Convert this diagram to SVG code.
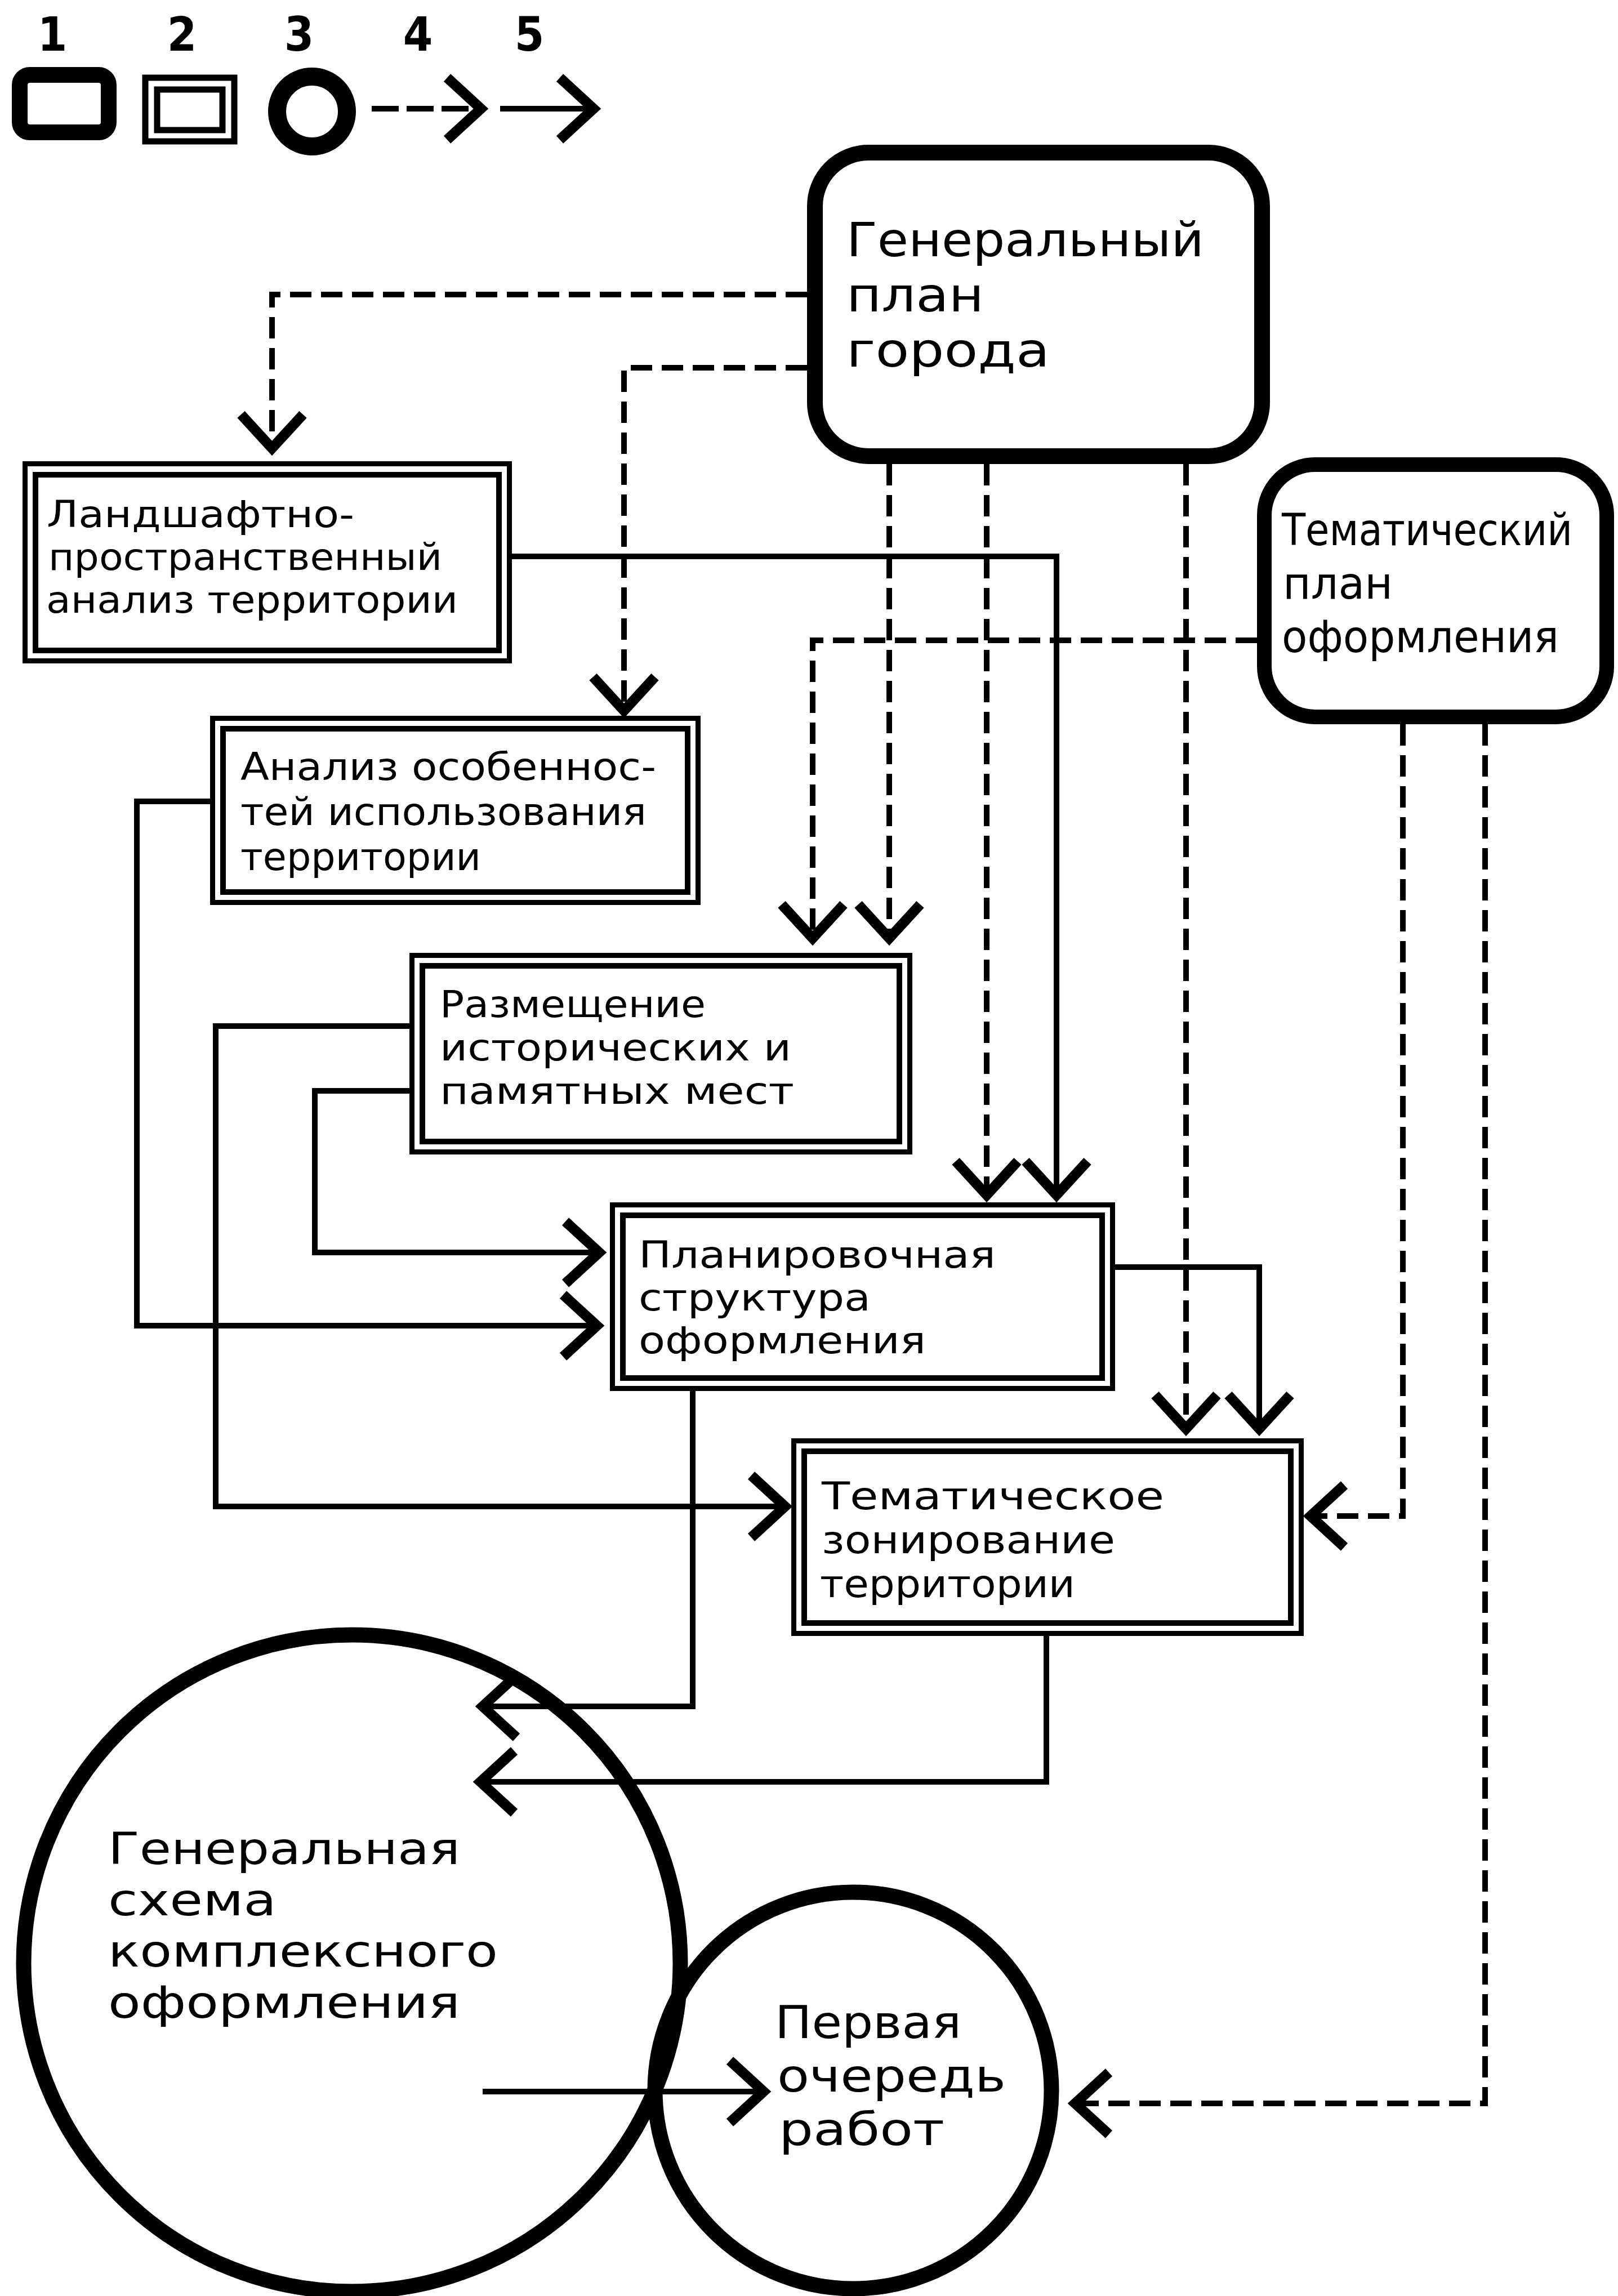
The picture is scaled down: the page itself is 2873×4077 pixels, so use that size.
<svg xmlns="http://www.w3.org/2000/svg" width="2873" height="4077" viewBox="0 0 2873 4077">
<style>
.bo{fill:none;stroke:#000;stroke-width:9}
.bi{fill:none;stroke:#000;stroke-width:10}
.rr{fill:none;stroke:#000;stroke-width:28}
.cr{fill:none;stroke:#000;stroke-width:27}
.t{font-family:"DejaVu Sans","Liberation Sans",sans-serif;fill:#000}
.tc{font-family:"DejaVu Sans Condensed","DejaVu Sans","Liberation Sans",sans-serif;fill:#000}
.n{font-family:"DejaVu Sans Condensed","DejaVu Sans",sans-serif;font-size:84px;font-weight:bold;text-anchor:middle}
.c{fill:none;stroke:#000;stroke-width:10;stroke-linejoin:miter}
.d{stroke-dasharray:38 17}
.a{marker-end:url(#arr)}
</style>
<defs>
<marker id="arr" markerUnits="userSpaceOnUse" viewBox="-12 -72 92 144" markerWidth="92" markerHeight="144" refX="60" refY="0" orient="auto">
<path d="M0,-55 L60,0 L0,55" fill="none" stroke="#000" stroke-width="18" stroke-dasharray="none"/>
</marker>
</defs>
<rect x="0" y="0" width="2873" height="4077" fill="#fff"/>

<g id="legend">
<text class="t n" x="93" y="90">1</text>
<text class="t n" x="323" y="90">2</text>
<text class="t n" x="531" y="90">3</text>
<text class="t n" x="742" y="90">4</text>
<text class="t n" x="940" y="90">5</text>
<rect x="35" y="133" width="158" height="102" rx="18" class="rr"/>
<rect x="258" y="138" width="158" height="113" class="bo" style="stroke-width:11"/>
<rect x="279" y="159" width="116" height="72" class="bi" style="stroke-width:11"/>
<circle cx="554" cy="198" r="62" fill="none" stroke="#000" stroke-width="32"/>
<path d="M660,193 H854" class="c d" style="stroke-dasharray:48 14" marker-end="url(#arr)"/>
<path d="M888,193 H1054" class="c a"/>
</g>

<g id="connectors">
<path d="M1433,523 H483 V796" class="c d a"/>
<path d="M1433,653 H1108 V1262" class="c d a"/>
<path d="M1579,824 V1666" class="c d a"/>
<path d="M1752,824 V2122" class="c d a"/>
<path d="M2106,824 V2537" class="c d a"/>
<path d="M909,988 H1876 V2122" class="c a"/>
<path d="M2232,1137 H1443 V1666" class="c d a"/>
<path d="M2491,1286 V2692 H2327" class="c d a"/>
<path d="M2637,1286 V3735 H1909" class="c d a"/>
<path d="M373,1423 H243 V2354 H1060" class="c a"/>
<path d="M727,1822 H383 V2675 H1394" class="c a"/>
<path d="M727,1937 H559 V2224 H1064" class="c a"/>
<path d="M1980,2250 H2236 V2537" class="c a"/>
<path d="M1230,2470 V3030 H857" class="c a"/>
<path d="M1858,2905 V3164 H853" class="c a"/>
<path d="M857,3714 H1356" class="c a"/>
</g>

<g id="genplan">
<rect x="1447" y="271" width="794" height="539" rx="95" class="rr"/>
<text class="t" style="font-size:84px"><tspan x="1503" y="455" textLength="635" lengthAdjust="spacingAndGlyphs">Генеральный</tspan><tspan x="1503" y="553" textLength="244" lengthAdjust="spacingAndGlyphs">план</tspan><tspan x="1503" y="651" textLength="361" lengthAdjust="spacingAndGlyphs">города</tspan></text>
</g>

<g id="tematplan">
<rect x="2245" y="825" width="608" height="448" rx="90" class="rr" style="stroke-width:26"/>
<text class="tc" style="font-size:78px"><tspan x="2276" y="968" textLength="516" lengthAdjust="spacingAndGlyphs">Тематический</tspan><tspan x="2278" y="1063" textLength="195" lengthAdjust="spacingAndGlyphs">план</tspan><tspan x="2276" y="1158" textLength="492" lengthAdjust="spacingAndGlyphs">оформления</tspan></text>
</g>

<g id="landshaft">
<rect x="44.5" y="823.5" width="860" height="350" class="bo"/>
<rect x="63" y="843" width="823" height="312" class="bi"/>
<text class="t" style="font-size:65px"><tspan x="83" y="936" textLength="546" lengthAdjust="spacingAndGlyphs">Ландшафтно-</tspan><tspan x="86" y="1012" textLength="699" lengthAdjust="spacingAndGlyphs">пространственный</tspan><tspan x="82" y="1088" textLength="731" lengthAdjust="spacingAndGlyphs">анализ территории</tspan></text>
</g>

<g id="analiz">
<rect x="377.5" y="1275.5" width="862" height="327" class="bo"/>
<rect x="396" y="1294" width="825" height="290" class="bi"/>
<text class="t" style="font-size:68px"><tspan x="427" y="1385" textLength="738" lengthAdjust="spacingAndGlyphs">Анализ особеннос-</tspan><tspan x="427" y="1465" textLength="721" lengthAdjust="spacingAndGlyphs">тей использования</tspan><tspan x="427" y="1545" textLength="427" lengthAdjust="spacingAndGlyphs">территории</tspan></text>
</g>

<g id="razmeshchenie">
<rect x="731.5" y="1696.5" width="884" height="349" class="bo"/>
<rect x="750" y="1715" width="847" height="312" class="bi"/>
<text class="t" style="font-size:66px"><tspan x="781" y="1806" textLength="472" lengthAdjust="spacingAndGlyphs">Размещение</tspan><tspan x="781" y="1883" textLength="624" lengthAdjust="spacingAndGlyphs">исторических и</tspan><tspan x="781" y="1960" textLength="629" lengthAdjust="spacingAndGlyphs">памятных мест</tspan></text>
</g>

<g id="planirovka">
<rect x="1087.5" y="2139.5" width="888" height="326" class="bo"/>
<rect x="1106" y="2158" width="851" height="289" class="bi"/>
<text class="t" style="font-size:65px"><tspan x="1134" y="2251" textLength="634" lengthAdjust="spacingAndGlyphs">Планировочная</tspan><tspan x="1134" y="2327" textLength="412" lengthAdjust="spacingAndGlyphs">структура</tspan><tspan x="1134" y="2403" textLength="510" lengthAdjust="spacingAndGlyphs">оформления</tspan></text>
</g>

<g id="zonirovanie">
<rect x="1409.5" y="2558.5" width="901" height="342" class="bo"/>
<rect x="1428" y="2577" width="864" height="305" class="bi"/>
<text class="t" style="font-size:67px"><tspan x="1459" y="2680" textLength="608" lengthAdjust="spacingAndGlyphs">Тематическое</tspan><tspan x="1459" y="2758" textLength="521" lengthAdjust="spacingAndGlyphs">зонирование</tspan><tspan x="1456" y="2836" textLength="453" lengthAdjust="spacingAndGlyphs">территории</tspan></text>
</g>

<g id="genskhema">
<circle cx="625" cy="3486" r="583" class="cr"/>
<text class="t" style="font-size:78px"><tspan x="192" y="3310" textLength="625" lengthAdjust="spacingAndGlyphs">Генеральная</tspan><tspan x="192" y="3401" textLength="299" lengthAdjust="spacingAndGlyphs">схема</tspan><tspan x="192" y="3492" textLength="692" lengthAdjust="spacingAndGlyphs">комплексного</tspan><tspan x="192" y="3583" textLength="625" lengthAdjust="spacingAndGlyphs">оформления</tspan></text>
</g>

<g id="pervaya">
<circle cx="1515" cy="3712" r="352" class="cr"/>
<text class="t" style="font-size:81px"><tspan x="1376" y="3619" textLength="331" lengthAdjust="spacingAndGlyphs">Первая</tspan><tspan x="1380" y="3714" textLength="406" lengthAdjust="spacingAndGlyphs">очередь</tspan><tspan x="1383" y="3809" textLength="294" lengthAdjust="spacingAndGlyphs">работ</tspan></text>
</g>
</svg>
